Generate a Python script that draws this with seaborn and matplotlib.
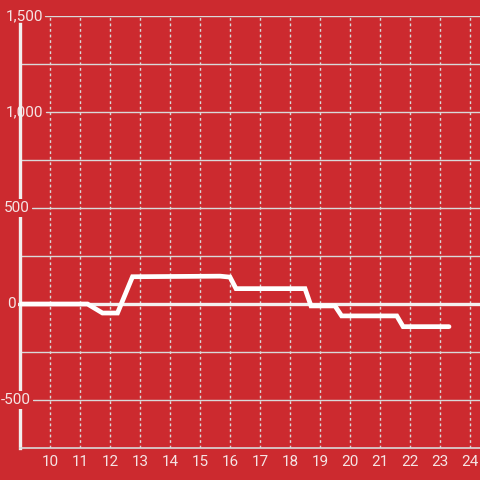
import matplotlib
matplotlib.use("Agg")
import matplotlib.pyplot as plt
import seaborn as sns
import pandas as pd

# ---- data ----
hours = [9, 11.25, 11.75, 12.25, 12.75, 15.67, 16.0, 16.2, 18.5, 18.7, 19.5, 19.72, 21.56, 21.77, 23.3]
values = [0, 0, -47, -47, 142, 145, 140, 80, 80, -10, -10, -62, -62, -118, -118]
x_ticks = [10, 11, 12, 13, 14, 15, 16, 17, 18, 19, 20, 21, 22, 23, 24]
y_major = [1500, 1000, 500, 0, -500]
y_labels = ["1,500", "1,000", "500", "0", "-500"]
y_minor = [1250, 750, 250, -250]

BG = "#CC2A2F"
GRID = "#D9D9D9"
TXT = "#F5E4E4"

sns.set_theme(style="white")
plt.rcParams["font.family"] = ["Roboto", "DejaVu Sans"]

fig = plt.figure(figsize=(4.8, 4.8), dpi=100, facecolor=BG)
ax = fig.add_axes([20 / 480, 32 / 480, 460 / 480, 432 / 480])
ax.set_facecolor(BG)

df = pd.DataFrame({"hour": hours, "value": values})

ax.set_xlim(9, 24.333)
ax.set_ylim(-750, 1500)

# vertical dashed grid
ax.set_xticks(x_ticks)
ax.set_xticklabels([str(t) for t in x_ticks])
ax.grid(axis="x", color=GRID, linestyle=(0, (2, 2)), linewidth=1)
ax.set_yticks([])
ax.set_axisbelow(True)

# minor horizontal gridlines
for yv in y_minor:
    ax.axhline(yv, color=GRID, linewidth=1, zorder=1)

# major horizontal gridlines start right after label
label_right_px = [43, 43, 30, 16, 31]
grid_start_px = [45, 46, 32, 18, 33]
for yv, gs in zip(y_major, grid_start_px):
    if yv == 0:
        continue
    ax.axhline(yv, xmin=(gs - 20) / 460, color=GRID, linewidth=1, zorder=1)
# zero line
ax.axhline(0, xmin=-2 / 460, color="#F4F0F0", linewidth=2.4, zorder=2, clip_on=False)

sns.lineplot(data=df, x="hour", y="value", ax=ax, color="white", linewidth=3.4,
             zorder=3, legend=False)
ax.lines[-1].set_solid_joinstyle("miter")

ax.set_xlabel("")
ax.set_ylabel("")

# spines
for s in ["top", "right"]:
    ax.spines[s].set_visible(False)
ax.spines["left"].set_color("#F2EEEE")
ax.spines["left"].set_linewidth(2.4)
ax.spines["left"].set_bounds(-750, 1458)
ax.spines["left"].set_zorder(2.5)
ax.spines["bottom"].set_color(GRID)
ax.spines["bottom"].set_linewidth(1.2)

ax.tick_params(axis="x", length=0, pad=5, labelsize=11, labelcolor=TXT)

# y labels
ytrans = ax.get_yaxis_transform()
for yv, lab, rp in zip(y_major, y_labels, label_right_px):
    kw = {}
    z = 2
    if yv in (500, 0, -500):
        kw["bbox"] = dict(facecolor=BG, edgecolor="none", pad=1.5)
        z = 4
    ax.text((rp - 20) / 460, yv, lab, transform=ytrans, ha="right", va="center",
            fontsize=11, color=TXT, zorder=z, clip_on=False, **kw)

fig.savefig("out.png", dpi=100, facecolor=BG)
